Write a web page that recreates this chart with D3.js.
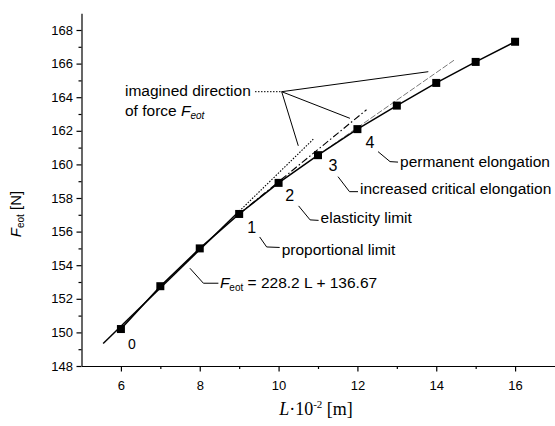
<!DOCTYPE html>
<html>
<meta charset="utf-8">
<title>Feot - L</title>
<style>
  body { margin: 0; background: #fff; }
  svg text { font-family: "Liberation Sans", Arial, sans-serif; fill: #000; }
  .axis text { font-size: 13px; }
  .axis path, .axis line { stroke: #000; stroke-width: 1.2; }
  .note { font-size: 15.5px; }
  .num { font-size: 16px; }
  .lead { fill: none; stroke: #000; stroke-width: 1; }
</style>
<body>
<script src="https://d3js.org/d3.v7.min.js"></script>
<script>
// measured points (L in 10^-2 m, F in N)
var lengths = [6, 7, 8, 9, 10, 11, 12, 13, 14, 15, 16];
var forces = [150.2, 152.75, 155.0, 157.05, 158.9, 160.55, 162.1, 163.5, 164.85, 166.1, 167.3];

var xTicks = [6, 8, 10, 12, 14, 16];
var xMinor = [7, 9, 11, 13, 15];
var yTicks = [148, 150, 152, 154, 156, 158, 160, 162, 164, 166, 168];
var yMinor = [149, 151, 153, 155, 157, 159, 161, 163, 165, 167];

// regression F = 228.2 L + 136.67 (L in m)
var fitSlope = 228.2, fitIntercept = 136.67;
var fitSolidRange = [5.55, 9];
var fitDottedRange = [9, 10.88];

// imagined directions of the force
var tangentDashDot = [[9, 157.05], [12.23, 163.25]];
var tangentDashed = [[11, 160.55], [14.45, 166.2]];

var pointNums = ["1", "2", "3", "4"];
var pointNumIdx = [3, 4, 5, 6];
var limitNames = ["proportional limit", "elasticity limit", "increased critical elongation", "permanent elongation"];

var width = 555, height = 426;

var x = d3.scaleLinear().domain([5, 17]).range([81.5, 554.5]);
var y = d3.scaleLinear().domain([148, 169]).range([366, 13.2]);

function fitF(L) { return fitSlope * L / 100 + fitIntercept; }

var svg = d3.select("body").append("svg")
    .attr("width", width)
    .attr("height", height);

// axes
svg.append("g")
    .attr("class", "axis")
    .attr("transform", "translate(0,366)")
    .call(d3.axisBottom(x).tickValues(xMinor).tickSize(3).tickFormat(""))
    .call(function(g) { g.select(".domain").remove(); });

svg.append("g")
    .attr("class", "axis")
    .attr("transform", "translate(81.5,0)")
    .call(d3.axisLeft(y).tickValues(yMinor).tickSize(3).tickFormat(""))
    .call(function(g) { g.select(".domain").remove(); });

svg.append("g")
    .attr("class", "axis")
    .attr("transform", "translate(0,366)")
    .call(d3.axisBottom(x).tickValues(xTicks).tickSize(5.5).tickSizeOuter(0).tickPadding(9));

svg.append("g")
    .attr("class", "axis")
    .attr("transform", "translate(81.5,0)")
    .call(d3.axisLeft(y).tickValues(yTicks).tickSize(5).tickSizeOuter(0).tickPadding(3.5));

// axis titles
var xt = svg.append("text")
    .attr("x", 316).attr("y", 415)
    .attr("text-anchor", "middle")
    .style("font-family", "'Liberation Serif', 'Times New Roman', serif")
    .style("font-size", "18px");
xt.append("tspan").style("font-style", "italic").text("L");
xt.append("tspan").text("\u00b710");
xt.append("tspan").attr("dy", -7).style("font-size", "11px").text("-2");
xt.append("tspan").attr("dy", 7).text(" [m]");

var yt = svg.append("text")
    .attr("transform", "translate(21,214) rotate(-90)")
    .attr("text-anchor", "middle")
    .style("font-size", "15px");
yt.append("tspan").style("font-style", "italic").text("F");
yt.append("tspan").attr("dy", 3).style("font-size", "10px").text("eot");
yt.append("tspan").attr("dy", -3).text(" [N]");

// imagined direction lines
var line = d3.line().x(function(d) { return x(d[0]); }).y(function(d) { return y(d[1]); });

svg.append("path")
    .datum(fitDottedRange.map(function(L) { return [L, fitF(L)]; }))
    .attr("d", line)
    .attr("fill", "none").attr("stroke", "#000").attr("stroke-width", 1.1)
    .attr("stroke-dasharray", "1.5,1.5");

svg.append("path")
    .datum(tangentDashDot)
    .attr("d", line)
    .attr("fill", "none").attr("stroke", "#000").attr("stroke-width", 1.1)
    .attr("stroke-dasharray", "7,2.5,1.5,2.5");

svg.append("path")
    .datum(tangentDashed)
    .attr("d", line)
    .attr("fill", "none").attr("stroke", "#555").attr("stroke-width", 0.8)
    .attr("stroke-dasharray", "6,2");

// regression line and measured curve
svg.append("path")
    .datum(fitSolidRange.map(function(L) { return [L, fitF(L)]; }))
    .attr("d", line)
    .attr("fill", "none").attr("stroke", "#000").attr("stroke-width", 1.5);

var pts = lengths.map(function(L, i) { return [L, forces[i]]; });

svg.append("path")
    .datum(pts)
    .attr("d", line)
    .attr("fill", "none").attr("stroke", "#000").attr("stroke-width", 1.5);

svg.selectAll("rect.pt")
    .data(pts)
  .enter().append("rect")
    .attr("class", "pt")
    .attr("x", function(d) { return x(d[0]) - 4; })
    .attr("y", function(d) { return y(d[1]) - 4; })
    .attr("width", 8).attr("height", 8)
    .attr("fill", "#000");

// point 0
svg.append("text").attr("class", "note")
    .attr("x", x(lengths[0]) + 11).attr("y", y(forces[0]) + 19.5)
    .attr("text-anchor", "middle").style("font-size", "14px")
    .text("0");

// numbered limits with leaders
var numOff = [[12.5, 13], [11, 12], [15, 10], [12.6, 13]];
var leadOff = [[[8, 10], [15, 20], [28, 20.5]], [[9, 11], [20.5, 25], [29, 25.5]],
               [[5, 11.5], [16.5, 26.5], [25, 26.5]], [[8, 9.5], [20, 19.5], [28, 20]]];
var textOff = [[30, 28], [31, 28.5], [27, 29], [30, 25]];

pointNumIdx.forEach(function(pi, i) {
  var cx = x(lengths[pi]) + numOff[i][0], cy = y(forces[pi]) + numOff[i][1];
  svg.append("text").attr("class", "num")
      .attr("x", cx).attr("y", cy + 5.8)
      .attr("text-anchor", "middle")
      .text(pointNums[i]);
  svg.append("path").attr("class", "lead")
      .attr("d", d3.line()(leadOff[i].map(function(o) { return [cx + o[0], cy + o[1]]; })));
  svg.append("text").attr("class", "note")
      .attr("x", cx + textOff[i][0]).attr("y", cy + textOff[i][1])
      .text(limitNames[i]);
});

// regression label
var ex = x(7.75), ey = y(fitF(7.75));
svg.append("path").attr("class", "lead")
    .attr("d", d3.line()([[ex, ey + 9], [ex + 13.5, ey + 24], [ex + 28.5, ey + 24]]));
var eq = svg.append("text").attr("class", "note")
    .attr("x", ex + 30).attr("y", ey + 28.5);
eq.append("tspan").style("font-style", "italic").text("F");
eq.append("tspan").attr("dy", 3).style("font-size", "10px").text("eot");
eq.append("tspan").attr("dy", -3).text(" = " + fitSlope + " L + " + fitIntercept);

// imagined direction label
svg.append("text").attr("class", "note")
    .attr("x", 125).attr("y", 95.5)
    .text("imagined direction");
var of = svg.append("text").attr("class", "note")
    .attr("x", 125).attr("y", 116);
of.append("tspan").text("of force ");
of.append("tspan").style("font-style", "italic").text("F");
of.append("tspan").attr("dy", 3).style("font-size", "10px").style("font-style", "italic").text("eot");

var jx = 281.7, jy = 91.7;
svg.append("path").attr("class", "lead")
    .attr("stroke-dasharray", "1.5,1.5")
    .attr("d", d3.line()([[255, jy], [jx, jy]]));
[[x(10.5), y(fitF(10.5)) - 8], [x(11.81), y(157.05 + 2.81 * 1.92) - 5], [428.3, 71.7]].forEach(function(e) {
  svg.append("path").attr("class", "lead")
      .attr("d", d3.line()([[jx, jy], e]));
});
</script>
</body>
</html>
